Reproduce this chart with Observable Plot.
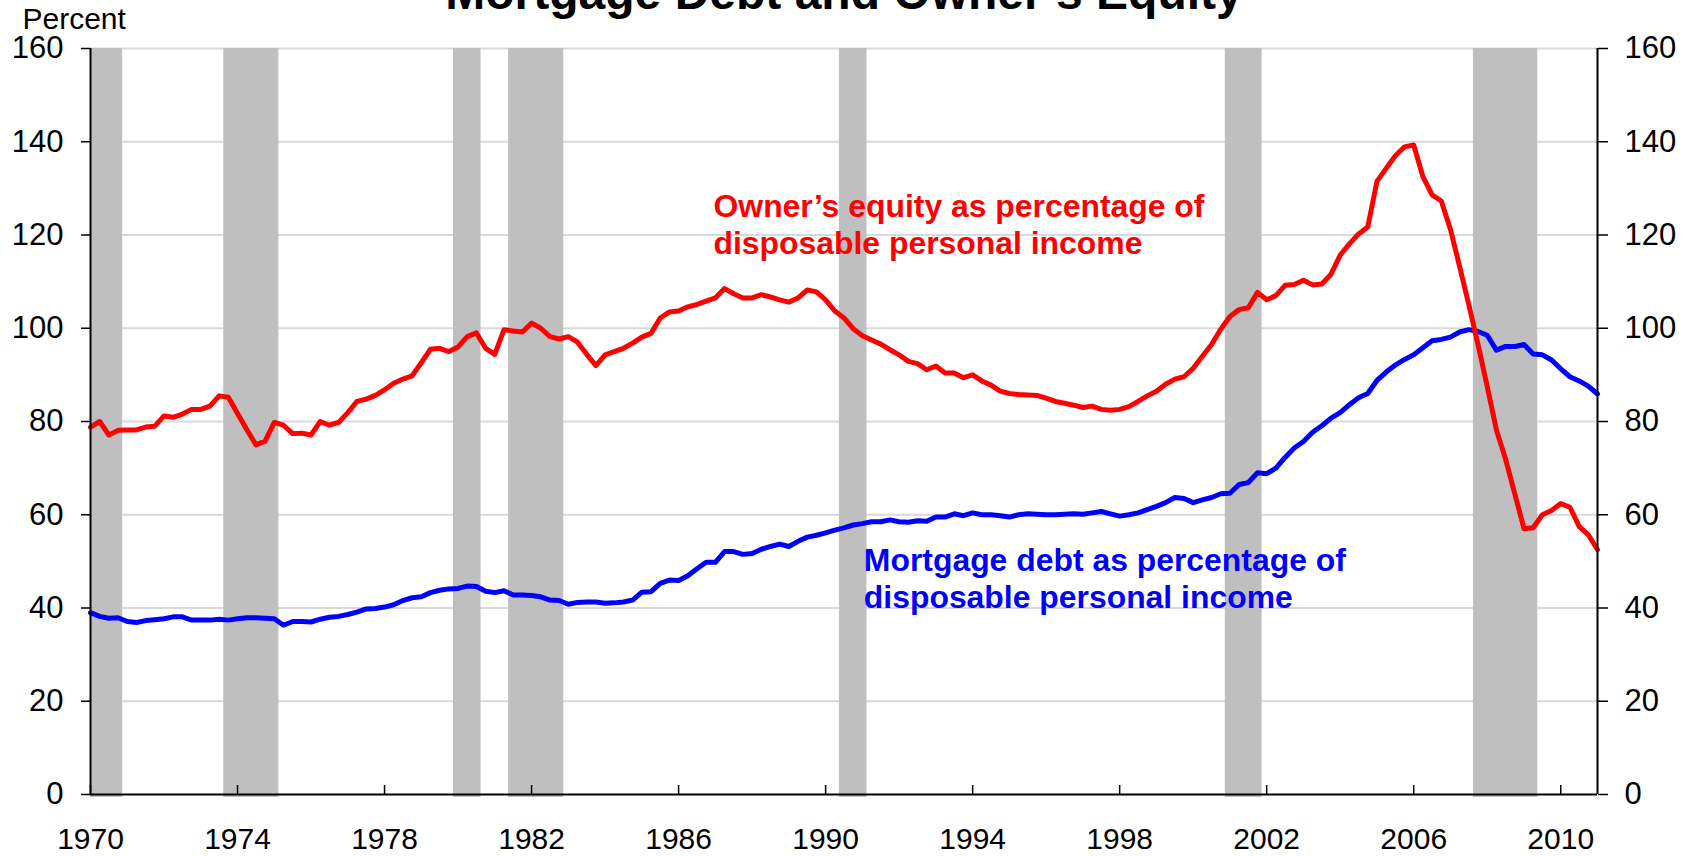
<!DOCTYPE html>
<html>
<head>
<meta charset="utf-8">
<script src="https://cdn.jsdelivr.net/npm/d3@7"></script>
<script src="https://cdn.jsdelivr.net/npm/@observablehq/plot@0.6"></script>
<style>
html, body { margin: 0; padding: 0; background: #fff; }
#chart { width: 1690px; height: 856px; overflow: hidden; position: relative; }
#chart svg { display: block; }
</style>
</head>
<body>
<div id="chart"></div>
<script>
// ---- Data (quarterly, first value = 1970Q1) ----
const firstQuarter = "1970Q1";

const ownersEquity = [
  78.8, 80.0, 77.1, 78.1, 78.2, 78.2, 78.8, 79.0, 81.2, 80.9,
  81.6, 82.6, 82.6, 83.3, 85.5, 85.2, 81.7, 78.3, 75.0, 75.8,
  79.8, 79.2, 77.4, 77.5, 77.1, 80.0, 79.2, 79.8, 81.9, 84.3,
  84.8, 85.6, 86.8, 88.2, 89.1, 89.8, 92.6, 95.5, 95.7, 95.0,
  96.0, 98.2, 99.0, 95.7, 94.4, 99.7, 99.4, 99.2, 101.1, 100.0,
  98.2, 97.7, 98.2, 97.0, 94.4, 92.0, 94.3, 95.0, 95.7, 96.8,
  98.1, 98.9, 102.2, 103.5, 103.7, 104.6, 105.1, 105.8, 106.5, 108.5,
  107.4, 106.5, 106.5, 107.2, 106.7, 106.1, 105.6, 106.5, 108.2, 107.8,
  106.1, 103.7, 102.2, 99.9, 98.4, 97.5, 96.6, 95.4, 94.3, 92.9,
  92.4, 91.1, 91.9, 90.4, 90.4, 89.4, 90.0, 88.7, 87.8, 86.5,
  86.0, 85.8, 85.7, 85.6, 85.0, 84.3, 83.9, 83.5, 83.0, 83.3,
  82.6, 82.4, 82.6, 83.2, 84.3, 85.5, 86.5, 88.0, 89.1, 89.6,
  91.4, 94.0, 96.5, 99.8, 102.5, 104.0, 104.4, 107.7, 106.1, 107.0,
  109.2, 109.4, 110.3, 109.3, 109.5, 111.6, 115.7, 118.1, 120.2, 121.7,
  131.5, 134.3, 137.0, 138.9, 139.3, 132.5, 128.6, 127.3, 121.2, 113.2,
  105.0, 96.5, 87.5, 78.2, 71.9, 64.5, 57.0, 57.2, 60.0, 60.9,
  62.4, 61.6, 57.5, 55.7, 52.5
];

const mortgageDebt = [
  39.0, 38.2, 37.8, 37.9, 37.1, 36.9, 37.3, 37.5, 37.7, 38.1,
  38.1, 37.4, 37.4, 37.4, 37.6, 37.4, 37.7, 37.9, 37.9, 37.8,
  37.7, 36.3, 37.1, 37.1, 37.0, 37.6, 38.0, 38.2, 38.6, 39.1,
  39.8, 39.9, 40.2, 40.7, 41.6, 42.2, 42.4, 43.3, 43.8, 44.1,
  44.2, 44.7, 44.6, 43.6, 43.3, 43.7, 42.8, 42.8, 42.7, 42.4,
  41.7, 41.6, 40.8, 41.2, 41.3, 41.3, 41.0, 41.1, 41.3, 41.7,
  43.4, 43.5, 45.3, 46.0, 45.9, 46.9, 48.4, 49.8, 49.8, 52.1,
  52.1, 51.5, 51.7, 52.6, 53.2, 53.7, 53.2, 54.3, 55.2, 55.6,
  56.1, 56.7, 57.2, 57.8, 58.1, 58.5, 58.5, 58.9, 58.5, 58.4,
  58.7, 58.6, 59.5, 59.5, 60.2, 59.8, 60.4, 60.0, 60.0, 59.8,
  59.5, 60.0, 60.2, 60.1, 60.0, 60.0, 60.1, 60.2, 60.1, 60.4,
  60.7, 60.2, 59.7, 60.0, 60.4, 61.1, 61.8, 62.6, 63.7, 63.5,
  62.6, 63.2, 63.7, 64.5, 64.6, 66.5, 66.9, 69.0, 68.8, 70.0,
  72.3, 74.3, 75.7, 77.7, 79.1, 80.7, 81.9, 83.6, 85.1, 86.0,
  88.8, 90.6, 92.1, 93.3, 94.3, 95.8, 97.3, 97.6, 98.1, 99.2,
  99.7, 99.3, 98.5, 95.3, 96.1, 96.1, 96.5, 94.5, 94.3, 93.2,
  91.3, 89.6, 88.7, 87.6, 85.9
];

// NBER recessions (quarters)
const recessionStart = ["1969Q4", "1973Q4", "1980Q1", "1981Q3", "1990Q3", "2001Q1", "2007Q4"];
const recessionEnd   = ["1970Q4", "1975Q1", "1980Q3", "1982Q4", "1991Q1", "2001Q4", "2009Q2"];

const yearTicks = [1970, 1974, 1978, 1982, 1986, 1990, 1994, 1998, 2002, 2006, 2010];
const percentTicks = [0, 20, 40, 60, 80, 100, 120, 140, 160];

const titleText = "Mortgage Debt and Owner\u2019s Equity";
const unitText = "Percent";
const equityLabel = "Owner\u2019s equity as percentage of\ndisposable personal income";
const debtLabel = "Mortgage debt as percentage of\ndisposable personal income";

// ---- Build tables ----
const quarterToYear = s => +s.slice(0, 4) + (+s.slice(5) - 1) / 4;
const t0 = quarterToYear(firstQuarter);
const equityRows = ownersEquity.map((v, i) => ({t: t0 + i / 4, v}));
const debtRows = mortgageDebt.map((v, i) => ({t: t0 + i / 4, v}));
const xDomain = [t0, equityRows[equityRows.length - 1].t];
const yDomain = [percentTicks[0], percentTicks[percentTicks.length - 1]];
const recessions = recessionStart.map((s, i) => ({
  x1: Math.max(xDomain[0], quarterToYear(s) - 0.125),
  x2: quarterToYear(recessionEnd[i]) + 0.125
}));

const font = '"Liberation Sans", Arial, Helvetica, sans-serif';

const chart = Plot.plot({
  width: 1690,
  height: 856,
  marginLeft: 90,
  marginRight: 93,
  marginTop: 48,
  marginBottom: 62,
  style: {fontFamily: font, fontSize: "31px", background: "#fff", color: "#000"},
  x: {domain: xDomain},
  y: {domain: yDomain},
  marks: [
    Plot.gridY({ticks: percentTicks.slice(1), stroke: "#d9d9d9", strokeOpacity: 1, strokeWidth: 2}),
    Plot.rect(recessions, {x1: "x1", x2: "x2", y1: yDomain[0], y2: yDomain[1], fill: "#bfbfbf", insetBottom: -3}),
    Plot.line(debtRows, {x: "t", y: "v", stroke: "#0000ff", strokeWidth: 5, strokeLinejoin: "round"}),
    Plot.line(equityRows, {x: "t", y: "v", stroke: "#ff0000", strokeWidth: 5, strokeLinejoin: "round"}),
    Plot.ruleY([yDomain[0]], {stroke: "#000", strokeWidth: 2}),
    Plot.ruleX(xDomain, {stroke: "#000", strokeWidth: 2}),
    Plot.axisY({anchor: "left", ticks: percentTicks, tickSize: 9, tickPadding: 18, strokeWidth: 1.5, tickFormat: d => String(d), label: null}),
    Plot.axisY({anchor: "right", ticks: percentTicks, tickSize: 10, tickPadding: 17, strokeWidth: 1.5, tickFormat: d => String(d), label: null}),
    Plot.axisX({anchor: "bottom", ticks: yearTicks, tickSize: -9, tickPadding: 42, strokeWidth: 1.5, fontSize: 30, tickFormat: d => String(d), label: null}),
    Plot.text([titleText], {text: d => d, frameAnchor: "top", dy: -55, fontSize: 48, fontWeight: "bold", lineAnchor: "middle", fill: "#000"}),
    Plot.text([unitText], {text: d => d, frameAnchor: "top-left", textAnchor: "start", dx: -68, dy: -29, fontSize: 30, lineAnchor: "middle", fill: "#000"}),
    Plot.text([equityLabel], {text: d => d, x: 1986.95, y: 129.6, textAnchor: "start", lineAnchor: "top", lineHeight: 1.17, fontSize: 31.9, fontWeight: "bold", fill: "#ff0000"}),
    Plot.text([debtLabel], {text: d => d, x: 1991.04, y: 53.6, textAnchor: "start", lineAnchor: "top", lineHeight: 1.17, fontSize: 31.9, fontWeight: "bold", fill: "#0000ff"})
  ]
});

document.getElementById("chart").appendChild(chart);
</script>
</body>
</html>
